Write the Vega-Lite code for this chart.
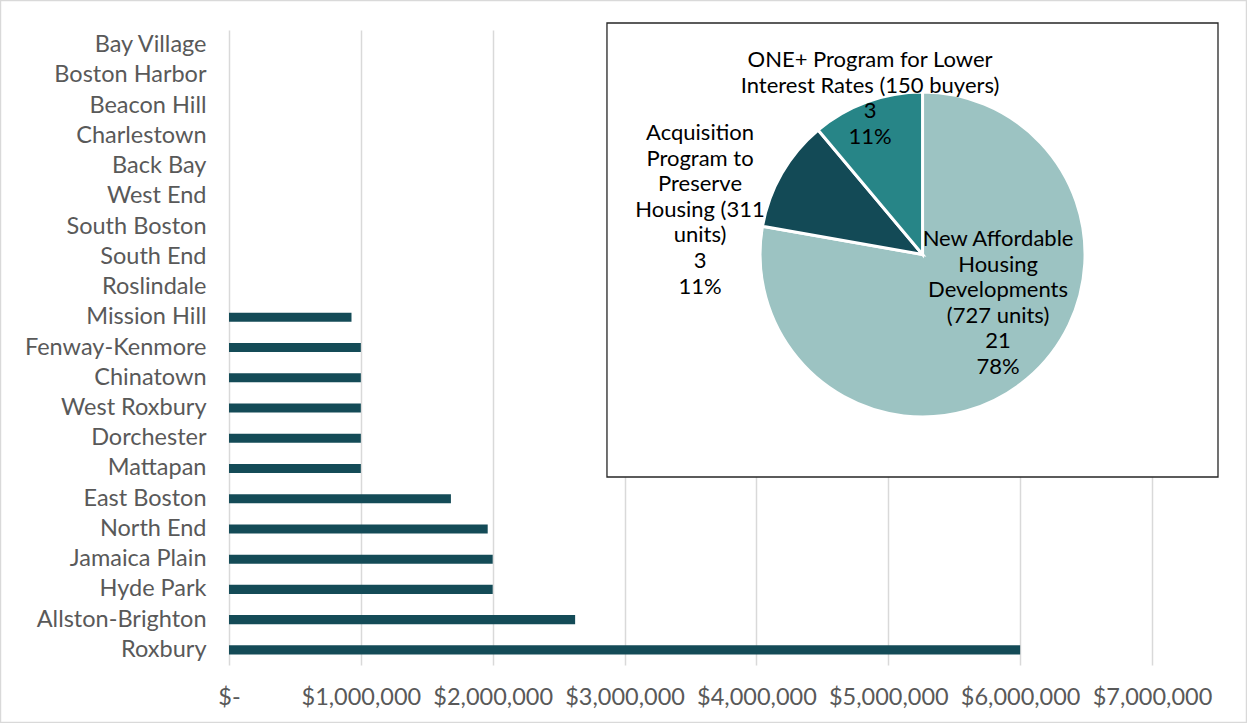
{
  "$schema": "https://vega.github.io/schema/vega-lite/v6.json",
  "width": 923,
  "height": 635,
  "autosize": {"type": "none"},
  "padding": {"left": 229, "top": 30, "right": 95, "bottom": 58},
  "background": "white",
  "config": {
    "font": "Lato",
    "view": {"stroke": null},
    "axis": {"labelFont": "Lato", "labelColor": "#595959", "labelFontSize": 23.5, "domain": false, "ticks": false, "title": null}
  },
  "datasets": {
    "bars": [
      {"neighborhood": "Bay Village", "amount": 0},
      {"neighborhood": "Boston Harbor", "amount": 0},
      {"neighborhood": "Beacon Hill", "amount": 0},
      {"neighborhood": "Charlestown\u00a0", "amount": 0},
      {"neighborhood": "Back Bay", "amount": 0},
      {"neighborhood": "West End", "amount": 0},
      {"neighborhood": "South Boston\u00a0", "amount": 0},
      {"neighborhood": "South End\u00a0", "amount": 0},
      {"neighborhood": "Roslindale", "amount": 0},
      {"neighborhood": "Mission Hill", "amount": 929000},
      {"neighborhood": "Fenway-Kenmore", "amount": 1000000},
      {"neighborhood": "Chinatown", "amount": 1000000},
      {"neighborhood": "West Roxbury", "amount": 1000000},
      {"neighborhood": "Dorchester", "amount": 1000000},
      {"neighborhood": "Mattapan", "amount": 1000000},
      {"neighborhood": "East Boston", "amount": 1683000},
      {"neighborhood": "North End", "amount": 1962000},
      {"neighborhood": "Jamaica Plain", "amount": 2000000},
      {"neighborhood": "Hyde Park", "amount": 2000000},
      {"neighborhood": "Allston-Brighton", "amount": 2625000},
      {"neighborhood": "Roxbury", "amount": 6000000}
    ],
    "pie": [
      {"program": "New Affordable Housing Developments (727 units)", "count": 21, "label": ["New Affordable", "Housing", "Developments", "(727 units)", "21", "78%"]},
      {"program": "Acquisition Program to Preserve Housing (311 units)", "count": 3, "label": ["Acquisition", "Program to", "Preserve", "Housing (311", "units)", "3", "11%"]},
      {"program": "ONE+ Program for Lower Interest Rates (150 buyers)", "count": 3, "label": ["ONE+ Program for Lower", "Interest Rates (150 buyers)", "3", "11%"]}
    ],
    "frame": [{}]
  },
  "layer": [
    {
      "data": {"name": "bars"},
      "mark": {"type": "bar", "color": "#144B57"},
      "encoding": {
        "y": {
          "field": "neighborhood", "type": "nominal", "sort": null,
          "scale": {"paddingInner": 0.7, "paddingOuter": 0.35},
          "axis": {"labelPadding": 23, "grid": false, "labelLimit": 400}
        },
        "x": {
          "field": "amount", "type": "quantitative",
          "scale": {"domain": [0, 7000000], "nice": false},
          "axis": {
            "values": [0, 1000000, 2000000, 3000000, 4000000, 5000000, 6000000, 7000000],
            "labelExpr": "datum.value === 0 ? '$-' : '$' + format(datum.value, ',')",
            "grid": true, "gridColor": "#D9D9D9", "gridWidth": 1.5,
            "labelPadding": 20, "labelFlush": false
          }
        }
      }
    },
    {
      "layer": [
        {
          "data": {"name": "frame"},
          "mark": {"type": "rect", "fill": null, "stroke": "#D9D9D9", "strokeWidth": 1.5},
          "encoding": {
            "x": {"datum": -0.2476, "type": "quantitative", "scale": {"domain": [0, 1], "nice": false, "zero": false}, "axis": null},
            "x2": {"datum": 1.1024},
            "y": {"datum": -0.0465, "type": "quantitative", "scale": {"domain": [0, 1], "nice": false, "zero": false, "reverse": true}, "axis": null},
            "y2": {"datum": 1.0906}
          }
        },
        {
          "data": {"name": "frame"},
          "mark": {"type": "rect", "fill": "white", "stroke": "#262626", "strokeWidth": 1.3},
          "encoding": {
            "x": {"datum": 0.4095, "type": "quantitative"},
            "x2": {"datum": 1.0715},
            "y": {"datum": -0.011, "type": "quantitative"},
            "y2": {"datum": 0.7039}
          }
        },
        {
          "data": {"name": "pie"},
          "mark": {"type": "arc", "outerRadius": 162.5, "stroke": "white", "strokeWidth": 3},
          "encoding": {
            "theta": {"field": "count", "type": "quantitative", "stack": true},
            "order": {"field": "count", "type": "quantitative", "sort": "descending"},
            "color": {
              "field": "program", "type": "nominal",
              "scale": {
                "domain": ["New Affordable Housing Developments (727 units)", "Acquisition Program to Preserve Housing (311 units)", "ONE+ Program for Lower Interest Rates (150 buyers)"],
                "range": ["#9CC3C2", "#134A56", "#278587"]
              },
              "legend": null
            },
            "x": {"datum": 0.7514, "type": "quantitative"},
            "y": {"datum": 0.3535, "type": "quantitative"}
          }
        },
        {
          "data": {"name": "pie"},
          "transform": [{"filter": "datum.count == 21"}],
          "mark": {"type": "text", "font": "Lato", "fontSize": 22, "lineHeight": 25.6, "color": "#000000", "align": "center", "baseline": "middle"},
          "encoding": {
            "x": {"datum": 0.8332, "type": "quantitative"},
            "y": {"datum": 0.3291, "type": "quantitative"},
            "text": {"field": "label"}
          }
        },
        {
          "data": {"name": "pie"},
          "transform": [{"filter": "indexof(datum.program, 'Acquisition') === 0"}],
          "mark": {"type": "text", "font": "Lato", "fontSize": 22, "lineHeight": 25.6, "color": "#000000", "align": "center", "baseline": "middle"},
          "encoding": {
            "x": {"datum": 0.5103, "type": "quantitative"},
            "y": {"datum": 0.1622, "type": "quantitative"},
            "text": {"field": "label"}
          }
        },
        {
          "data": {"name": "pie"},
          "transform": [{"filter": "indexof(datum.program, 'ONE+') === 0"}],
          "mark": {"type": "text", "font": "Lato", "fontSize": 22, "lineHeight": 25.6, "color": "#000000", "align": "center", "baseline": "middle"},
          "encoding": {
            "x": {"datum": 0.6945, "type": "quantitative"},
            "y": {"datum": 0.0472, "type": "quantitative"},
            "text": {"field": "label"}
          }
        }
      ]
    }
  ],
  "resolve": {"scale": {"x": "independent", "y": "independent", "color": "independent"}}
}
